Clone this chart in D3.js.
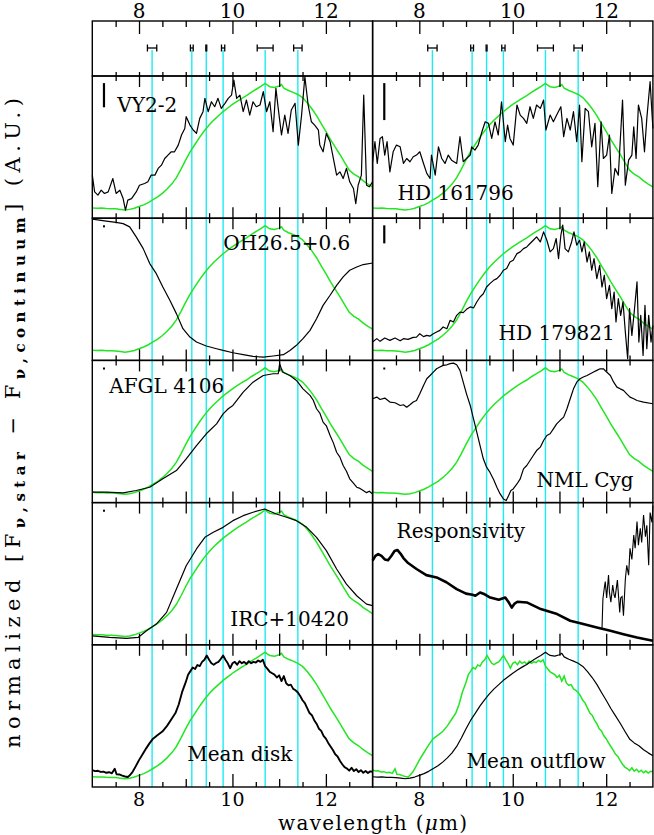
<!DOCTYPE html>
<html><head><meta charset="utf-8">
<script src="https://cdn.jsdelivr.net/npm/d3@7"></script>
<style>
body{margin:0;background:#fff}
svg{display:block}
text{font-family:"DejaVu Serif",serif;fill:#000}
</style>
</head><body>
<svg id="c" width="654" height="835"></svg>
<script>
// ---------------- data ----------------
const filterWl = [8.28, 9.13, 9.44, 9.80, 10.70, 11.40];
const filterHalfWidth = [0.10, 0.03, 0.01, 0.035, 0.17, 0.09];
const tickLabels = [8, 10, 12];
const integerTicks = [8, 9, 10, 11, 12];
const halfTicks = [7.5, 8.5, 9.5, 10.5, 11.5, 12.5];
const oddTicks = [9, 11];

// mean outflow spectrum (green template in most panels)
const meanOutflow = [[7.00,0.072],[7.10,0.070],[7.20,0.071],[7.30,0.068],[7.40,0.067],[7.50,0.066],[7.60,0.062],[7.70,0.058],[7.80,0.062],[7.90,0.070],[8.00,0.082],[8.10,0.094],[8.20,0.110],[8.30,0.130],[8.40,0.150],[8.50,0.175],[8.60,0.205],[8.70,0.240],[8.80,0.285],[8.90,0.345],[9.00,0.410],[9.10,0.470],[9.20,0.520],[9.30,0.570],[9.40,0.615],[9.50,0.655],[9.60,0.690],[9.70,0.720],[9.80,0.750],[9.90,0.775],[10.00,0.800],[10.10,0.822],[10.20,0.843],[10.30,0.862],[10.40,0.885],[10.50,0.905],[10.60,0.925],[10.70,0.948],[10.75,0.935],[10.80,0.925],[10.90,0.920],[11.00,0.930],[11.05,0.940],[11.10,0.915],[11.20,0.898],[11.30,0.885],[11.40,0.870],[11.50,0.848],[11.60,0.812],[11.70,0.770],[11.80,0.722],[11.90,0.665],[12.00,0.610],[12.10,0.552],[12.20,0.500],[12.30,0.448],[12.40,0.392],[12.50,0.338],[12.60,0.310],[12.70,0.290],[12.80,0.262],[12.90,0.240],[13.00,0.220]];

const meanDisk = [[7.00,0.119],[7.06,0.112],[7.12,0.114],[7.18,0.106],[7.24,0.108],[7.30,0.100],[7.36,0.104],[7.42,0.096],[7.48,0.128],[7.52,0.090],[7.58,0.088],[7.64,0.080],[7.70,0.074],[7.76,0.070],[7.80,0.082],[7.86,0.105],[7.92,0.140],[8.00,0.189],[8.08,0.232],[8.15,0.270],[8.22,0.305],[8.30,0.340],[8.40,0.365],[8.50,0.390],[8.60,0.430],[8.70,0.480],[8.78,0.520],[8.85,0.580],[8.92,0.665],[9.00,0.737],[9.05,0.790],[9.10,0.815],[9.15,0.840],[9.20,0.830],[9.25,0.858],[9.30,0.850],[9.35,0.880],[9.40,0.895],[9.45,0.925],[9.50,0.895],[9.55,0.870],[9.60,0.860],[9.65,0.872],[9.70,0.880],[9.75,0.900],[9.80,0.925],[9.85,0.895],[9.90,0.870],[9.95,0.835],[10.00,0.870],[10.05,0.880],[10.10,0.860],[10.15,0.885],[10.20,0.870],[10.25,0.880],[10.30,0.865],[10.35,0.885],[10.40,0.870],[10.45,0.880],[10.50,0.875],[10.55,0.890],[10.60,0.880],[10.65,0.895],[10.70,0.850],[10.75,0.830],[10.80,0.810],[10.85,0.800],[10.90,0.790],[10.95,0.770],[11.00,0.785],[11.05,0.745],[11.10,0.780],[11.15,0.730],[11.20,0.715],[11.25,0.720],[11.30,0.690],[11.35,0.680],[11.40,0.665],[11.45,0.640],[11.50,0.610],[11.55,0.590],[11.60,0.555],[11.65,0.520],[11.70,0.505],[11.75,0.470],[11.80,0.445],[11.85,0.410],[11.90,0.395],[11.95,0.360],[12.00,0.340],[12.05,0.310],[12.10,0.285],[12.15,0.260],[12.20,0.230],[12.25,0.215],[12.30,0.185],[12.35,0.160],[12.40,0.140],[12.45,0.130],[12.50,0.115],[12.55,0.135],[12.60,0.112],[12.65,0.125],[12.70,0.105],[12.75,0.118],[12.80,0.100],[12.85,0.112],[12.90,0.098],[12.95,0.110],[13.00,0.107]];

const vy22 = [[7.00,0.303],[7.05,0.185],[7.12,0.162],[7.19,0.197],[7.26,0.174],[7.34,0.185],[7.44,0.279],[7.51,0.174],[7.59,0.197],[7.66,0.138],[7.71,0.056],[7.76,0.127],[7.84,0.138],[7.94,0.185],[8.01,0.232],[8.12,0.244],[8.19,0.256],[8.26,0.303],[8.34,0.303],[8.41,0.350],[8.48,0.373],[8.55,0.420],[8.62,0.444],[8.69,0.467],[8.76,0.467],[8.84,0.514],[8.91,0.585],[8.98,0.631],[9.01,0.714],[9.09,0.655],[9.16,0.620],[9.23,0.596],[9.30,0.702],[9.37,0.749],[9.41,0.843],[9.48,0.749],[9.55,0.819],[9.62,0.784],[9.69,0.843],[9.76,0.772],[9.84,0.808],[9.91,0.843],[9.98,0.866],[10.03,0.972],[10.09,0.843],[10.16,0.866],[10.23,0.749],[10.30,0.831],[10.37,0.725],[10.44,0.819],[10.51,0.784],[10.59,0.796],[10.66,0.890],[10.73,0.749],[10.80,0.819],[10.87,0.608],[10.93,0.913],[10.98,0.772],[11.05,0.585],[11.12,0.725],[11.19,0.596],[11.26,0.761],[11.34,0.808],[11.41,0.514],[11.48,0.725],[11.55,0.995],[11.62,0.796],[11.69,0.678],[11.76,0.655],[11.84,0.620],[11.87,0.514],[11.94,0.467],[12.01,0.596],[12.09,0.538],[12.16,0.420],[12.23,0.303],[12.30,0.326],[12.37,0.279],[12.44,0.350],[12.51,0.256],[12.59,0.209],[12.64,0.103],[12.69,0.232],[12.76,0.303],[12.81,0.866],[12.87,0.232],[12.93,0.221],[13.00,0.256]];

const hd161796 = [[7.00,0.397],[7.05,0.538],[7.10,0.385],[7.16,0.561],[7.21,0.573],[7.26,0.444],[7.31,0.538],[7.37,0.326],[7.44,0.467],[7.51,0.514],[7.59,0.502],[7.66,0.385],[7.73,0.420],[7.80,0.397],[7.87,0.432],[7.94,0.444],[8.01,0.467],[8.09,0.385],[8.16,0.315],[8.23,0.279],[8.26,0.444],[8.34,0.303],[8.41,0.502],[8.48,0.420],[8.55,0.385],[8.62,0.444],[8.69,0.408],[8.80,0.385],[8.87,0.573],[8.94,0.397],[9.01,0.420],[9.09,0.444],[9.12,0.502],[9.19,0.479],[9.26,0.514],[9.34,0.608],[9.41,0.678],[9.48,0.667],[9.55,0.561],[9.62,0.678],[9.69,0.585],[9.76,0.819],[9.84,0.538],[9.89,0.655],[9.94,0.561],[10.01,0.514],[10.09,0.796],[10.16,0.725],[10.23,0.702],[10.30,0.667],[10.37,0.784],[10.44,0.702],[10.51,0.796],[10.59,0.772],[10.66,0.831],[10.71,0.620],[10.80,0.725],[10.87,0.678],[10.94,0.725],[11.03,0.784],[11.09,0.573],[11.16,0.702],[11.23,0.620],[11.30,0.749],[11.37,0.538],[11.43,0.796],[11.48,0.397],[11.55,0.772],[11.62,0.749],[11.69,0.502],[11.76,0.667],[11.82,0.221],[11.89,0.678],[11.94,0.420],[12.01,0.444],[12.07,0.585],[12.12,0.174],[12.19,0.350],[12.26,0.303],[12.35,0.831],[12.41,0.232],[12.48,0.408],[12.55,0.444],[12.59,0.643],[12.64,0.420],[12.69,0.796],[12.76,0.702],[12.82,0.467],[12.87,0.702],[12.94,0.960],[13.00,0.631]];

const oh265 = [[7.00,0.993],[7.30,0.979],[7.51,0.970],[7.66,0.962],[7.80,0.939],[7.94,0.869],[8.09,0.786],[8.23,0.681],[8.37,0.610],[8.51,0.516],[8.66,0.423],[8.80,0.329],[8.94,0.223],[9.09,0.164],[9.23,0.129],[9.44,0.101],[9.66,0.082],[9.80,0.070],[10.01,0.054],[10.23,0.040],[10.44,0.028],[10.66,0.023],[10.87,0.031],[11.09,0.040],[11.23,0.070],[11.37,0.106],[11.51,0.153],[11.66,0.211],[11.80,0.293],[11.94,0.387],[12.09,0.458],[12.23,0.528],[12.37,0.587],[12.51,0.634],[12.66,0.657],[12.80,0.674],[13.00,0.685]];

const hd179821 = [[7.00,0.129],[7.09,0.153],[7.16,0.134],[7.26,0.157],[7.37,0.141],[7.48,0.157],[7.59,0.138],[7.66,0.153],[7.76,0.148],[7.87,0.162],[7.94,0.164],[8.01,0.188],[8.09,0.167],[8.16,0.176],[8.23,0.171],[8.30,0.188],[8.37,0.200],[8.44,0.211],[8.51,0.235],[8.59,0.223],[8.66,0.282],[8.73,0.270],[8.80,0.317],[8.87,0.340],[8.94,0.336],[9.01,0.359],[9.09,0.376],[9.16,0.369],[9.23,0.411],[9.30,0.446],[9.37,0.469],[9.44,0.516],[9.51,0.540],[9.59,0.563],[9.66,0.575],[9.73,0.599],[9.80,0.634],[9.87,0.646],[9.94,0.692],[10.01,0.704],[10.09,0.751],[10.16,0.763],[10.23,0.786],[10.30,0.798],[10.37,0.822],[10.44,0.845],[10.51,0.869],[10.59,0.833],[10.66,0.904],[10.73,0.845],[10.80,0.763],[10.87,0.786],[10.93,0.857],[10.98,0.716],[11.03,0.880],[11.07,0.951],[11.12,0.786],[11.19,0.763],[11.26,0.833],[11.31,0.904],[11.37,0.810],[11.43,0.845],[11.48,0.763],[11.53,0.833],[11.59,0.692],[11.64,0.763],[11.69,0.634],[11.74,0.716],[11.80,0.575],[11.86,0.669],[11.91,0.516],[11.96,0.599],[12.01,0.434],[12.07,0.528],[12.12,0.364],[12.17,0.481],[12.21,0.270],[12.26,0.434],[12.31,0.317],[12.36,0.411],[12.41,0.200],[12.46,0.012],[12.50,0.364],[12.55,0.176],[12.60,0.340],[12.66,0.552],[12.70,0.129],[12.74,0.317],[12.79,0.035],[12.83,0.387],[12.87,0.082],[12.91,0.317],[12.96,0.129],[13.00,0.246]];

const afgl4106 = [[7.00,0.073],[7.30,0.073],[7.66,0.068],[7.94,0.085],[8.23,0.108],[8.51,0.167],[8.80,0.225],[9.01,0.308],[9.23,0.401],[9.44,0.484],[9.66,0.554],[9.80,0.624],[9.91,0.660],[10.01,0.683],[10.23,0.777],[10.44,0.847],[10.66,0.894],[10.87,0.906],[10.98,0.906],[11.01,0.977],[11.07,0.918],[11.23,0.894],[11.37,0.859],[11.51,0.800],[11.66,0.754],[11.73,0.720],[11.80,0.660],[11.87,0.630],[11.94,0.566],[12.01,0.540],[12.09,0.472],[12.16,0.420],[12.23,0.354],[12.30,0.320],[12.37,0.261],[12.44,0.220],[12.51,0.167],[12.58,0.140],[12.66,0.108],[12.73,0.100],[12.80,0.085],[12.87,0.070],[12.93,0.080],[13.00,0.061]];

const nmlCyg = [[7.00,0.730],[7.09,0.742],[7.16,0.725],[7.26,0.735],[7.37,0.707],[7.48,0.702],[7.59,0.683],[7.66,0.688],[7.73,0.671],[7.80,0.688],[7.87,0.707],[7.94,0.718],[8.01,0.765],[8.09,0.824],[8.16,0.871],[8.23,0.894],[8.30,0.918],[8.37,0.941],[8.44,0.953],[8.51,0.965],[8.59,0.969],[8.66,0.977],[8.73,0.981],[8.80,0.969],[8.87,0.930],[8.94,0.847],[9.01,0.765],[9.09,0.683],[9.16,0.589],[9.23,0.495],[9.30,0.401],[9.37,0.308],[9.44,0.249],[9.51,0.214],[9.59,0.162],[9.66,0.108],[9.73,0.061],[9.80,0.026],[9.86,0.014],[9.91,0.049],[9.96,0.085],[10.01,0.096],[10.09,0.131],[10.16,0.167],[10.23,0.237],[10.30,0.261],[10.37,0.296],[10.44,0.331],[10.51,0.366],[10.59,0.390],[10.66,0.437],[10.73,0.472],[10.80,0.484],[10.87,0.519],[10.94,0.554],[11.01,0.577],[11.09,0.601],[11.16,0.660],[11.23,0.730],[11.30,0.800],[11.37,0.847],[11.44,0.871],[11.51,0.883],[11.59,0.894],[11.66,0.906],[11.73,0.918],[11.80,0.930],[11.87,0.941],[11.94,0.941],[12.01,0.918],[12.09,0.894],[12.16,0.847],[12.23,0.812],[12.30,0.800],[12.37,0.789],[12.44,0.765],[12.51,0.742],[12.59,0.730],[12.66,0.718],[12.80,0.707],[13.00,0.695]];

const irc10420 = [[7.00,0.063],[7.37,0.052],[7.73,0.045],[7.98,0.052],[8.16,0.099],[8.37,0.146],[8.59,0.228],[8.80,0.392],[9.01,0.556],[9.23,0.674],[9.41,0.756],[9.59,0.791],[9.80,0.826],[10.01,0.873],[10.23,0.908],[10.44,0.932],[10.69,0.955],[10.94,0.920],[11.16,0.897],[11.37,0.873],[11.59,0.826],[11.80,0.756],[12.01,0.662],[12.23,0.533],[12.44,0.427],[12.66,0.345],[12.87,0.286],[13.00,0.275]];

const responsivity = [[7.00,0.592],[7.06,0.625],[7.12,0.638],[7.19,0.625],[7.26,0.600],[7.33,0.595],[7.40,0.625],[7.47,0.660],[7.53,0.667],[7.60,0.640],[7.66,0.610],[7.76,0.575],[7.94,0.533],[8.15,0.490],[8.37,0.474],[8.58,0.440],[8.80,0.392],[9.00,0.360],[9.14,0.352],[9.20,0.345],[9.30,0.368],[9.40,0.355],[9.50,0.335],[9.70,0.317],[9.84,0.333],[9.92,0.295],[9.98,0.262],[10.04,0.290],[10.10,0.303],[10.30,0.298],[10.60,0.251],[10.95,0.216],[11.23,0.169],[11.51,0.146],[11.80,0.122],[12.09,0.099],[12.37,0.075],[12.66,0.052],[13.00,0.028]];

const responsivityLong = [[11.91,0.110],[11.93,0.322],[11.96,0.400],[11.98,0.444],[12.01,0.330],[12.05,0.491],[12.07,0.370],[12.10,0.300],[12.14,0.420],[12.17,0.350],[12.19,0.330],[12.24,0.455],[12.29,0.228],[12.31,0.330],[12.34,0.340],[12.37,0.204],[12.41,0.460],[12.44,0.559],[12.48,0.490],[12.51,0.678],[12.55,0.600],[12.59,0.772],[12.62,0.680],[12.66,0.866],[12.69,0.700],[12.73,0.820],[12.76,0.720],[12.80,0.913],[12.84,0.760],[12.87,0.840],[12.91,0.559],[12.94,0.930],[12.98,0.860],[13.00,0.980]];

// ---------------- layout ----------------
const colX = [[92.3, 372.6], [372.6, 652.9]];
const stripTop = 21, stripBottom = 76, panelH = 142.2;

const panels = [
  {col:0,row:0,label:"VY2-2",lx:25,ly:36,black:vy22,green:meanOutflow,err:0.17},
  {col:1,row:0,label:"HD 161796",lx:25,ly:124,black:hd161796,green:meanOutflow,err:0.26},
  {col:0,row:1,label:"OH26.5+0.6",lx:131,ly:32,black:oh265,green:meanOutflow,err:0.012},
  {col:1,row:1,label:"HD 179821",lx:126,ly:122,black:hd179821,green:meanOutflow,err:0.127},
  {col:0,row:2,label:"AFGL 4106",lx:17,ly:33,black:afgl4106,green:meanOutflow,err:0.012},
  {col:1,row:2,label:"NML Cyg",lx:164,ly:127,black:nmlCyg,green:meanOutflow,err:0.012},
  {col:0,row:3,label:"IRC+10420",lx:138,ly:123,black:irc10420,green:meanOutflow,err:0.012},
  {col:1,row:3,label:"Responsivity",lx:24,ly:35,black:responsivity,extra:responsivityLong,green:null,bw:2.6},
  {col:0,row:4,label:"Mean disk",lx:95,ly:116,black:meanDisk,green:meanOutflow,bw:1.9},
  {col:1,row:4,label:"Mean outflow",lx:94,ly:123,black:meanOutflow,green:meanDisk}
];

const svg = d3.select("#c");
const xs = colX.map(r => d3.scaleLinear().domain([7, 13]).range(r));
const bottomAll = stripBottom + 5 * panelH;

const gCyan = svg.append("g");
const gCurves = svg.append("g");
const gFrame = svg.append("g");

function ticks(g, x, y, values, len, dir) {
  // dir: +1 -> ticks downward, -1 -> upward
  const axis = (dir > 0 ? d3.axisTop(x) : d3.axisBottom(x))
    .tickValues(values).tickSize(-len).tickFormat("");
  const a = g.append("g").attr("transform", `translate(0,${y})`).call(axis);
  a.select(".domain").remove();
  a.selectAll("line").attr("stroke", "#000").attr("stroke-width", 1.3);
}

xs.forEach((x, c) => {
  // cyan filter lines
  gCyan.selectAll(null).data(filterWl).enter().append("line")
    .attr("x1", d => x(d)).attr("x2", d => x(d))
    .attr("y1", 50).attr("y2", bottomAll)
    .attr("stroke", "#19ecf2").attr("stroke-width", 1.4);

  // top strip
  gFrame.append("rect").attr("x", x(7)).attr("y", stripTop)
    .attr("width", x(13) - x(7)).attr("height", stripBottom - stripTop)
    .attr("fill", "none").attr("stroke", "#000").attr("stroke-width", 1.4);
  ticks(gFrame, x, stripTop, tickLabels, 13, 1);
  ticks(gFrame, x, stripTop, halfTicks.concat(oddTicks), 6, 1);
  ticks(gFrame, x, stripBottom, integerTicks.concat(halfTicks), 4, -1);
  gFrame.selectAll(null).data(tickLabels).enter().append("text")
    .attr("x", d => x(d)).attr("y", 18).attr("text-anchor", "middle")
    .attr("font-size", 20).text(d => d);

  // filter error bars
  const ey = 48;
  filterWl.forEach((w, i) => {
    const hw = filterHalfWidth[i];
    const g = gFrame.append("g").attr("stroke", "#000").attr("stroke-width", 1.3);
    g.append("line").attr("x1", x(w - hw)).attr("x2", x(w + hw)).attr("y1", ey).attr("y2", ey);
    g.append("line").attr("x1", x(w - hw)).attr("x2", x(w - hw)).attr("y1", ey - 3.5).attr("y2", ey + 3.5);
    g.append("line").attr("x1", x(w + hw)).attr("x2", x(w + hw)).attr("y1", ey - 3.5).attr("y2", ey + 3.5);
  });

  // bottom axis labels
  gFrame.selectAll(null).data(tickLabels).enter().append("text")
    .attr("x", d => x(d)).attr("y", 806).attr("text-anchor", "middle")
    .attr("font-size", 19).text(d => d);
});

panels.forEach(p => {
  const x = xs[p.col];
  const top = stripBottom + p.row * panelH;
  const bot = top + panelH;
  const y = d3.scaleLinear().domain([0, 1]).range([bot, top]);
  const line = d3.line().x(d => x(d[0])).y(d => y(d[1]));

  if (p.green) gCurves.append("path").datum(p.green).attr("d", line)
    .attr("fill", "none").attr("stroke", "#22e622").attr("stroke-width", 1.5);
  gCurves.append("path").datum(p.black).attr("d", line)
    .attr("fill", "none").attr("stroke", "#000").attr("stroke-width", p.bw || 1.2)
    .attr("stroke-linejoin", "round");
  if (p.extra) gCurves.append("path").datum(p.extra).attr("d", line)
    .attr("fill", "none").attr("stroke", "#000").attr("stroke-width", 1.1);

  gFrame.append("rect").attr("x", x(7)).attr("y", top)
    .attr("width", x(13) - x(7)).attr("height", panelH)
    .attr("fill", "none").attr("stroke", "#000").attr("stroke-width", 1.4);
  ticks(gFrame, x, top, integerTicks, 11, 1);
  ticks(gFrame, x, top, halfTicks, 5, 1);
  if (p.row < 4) {
    ticks(gFrame, x, bot, integerTicks, 11, -1);
    ticks(gFrame, x, bot, halfTicks, 5, -1);
  } else {
    ticks(gFrame, x, bot, tickLabels, 13, -1);
    ticks(gFrame, x, bot, oddTicks, 8, -1);
    ticks(gFrame, x, bot, halfTicks, 5, -1);
  }

  if (p.err) {
    const ex = x(7.25), ey0 = y(0.95);
    const len = Math.max(2, p.err * panelH);
    gFrame.append("line").attr("x1", ex).attr("x2", ex)
      .attr("y1", ey0).attr("y2", ey0 + len)
      .attr("stroke", "#000").attr("stroke-width", p.err > 0.05 ? 2.2 : 2);
  }

  gFrame.append("text").attr("x", x(7) + p.lx).attr("y", top + p.ly)
    .attr("font-size", 20).text(p.label);
});

// axis titles
const xt = svg.append("text").attr("x", 372.6).attr("y", 830)
  .attr("text-anchor", "middle").attr("font-size", 20)
  .attr("textLength", 189).attr("lengthAdjust", "spacing");
xt.append("tspan").text("wavelength (");
xt.append("tspan").attr("font-style", "italic").text("μ");
xt.append("tspan").text("m)");

const yt = svg.append("text")
  .attr("transform", "translate(20,423) rotate(-90)")
  .attr("text-anchor", "middle").attr("font-size", 21)
  .attr("textLength", 650).attr("lengthAdjust", "spacing");
yt.append("tspan").text("normalized [F");
yt.append("tspan").attr("font-size", 15).attr("dy", 5).attr("font-weight", "bold").text("ν,star");
yt.append("tspan").attr("dy", -5).text(" − F");
yt.append("tspan").attr("font-size", 15).attr("dy", 5).attr("font-weight", "bold").text("ν,continuum");
yt.append("tspan").attr("dy", -5).text("] (A.U.)");
</script>
</body></html>
